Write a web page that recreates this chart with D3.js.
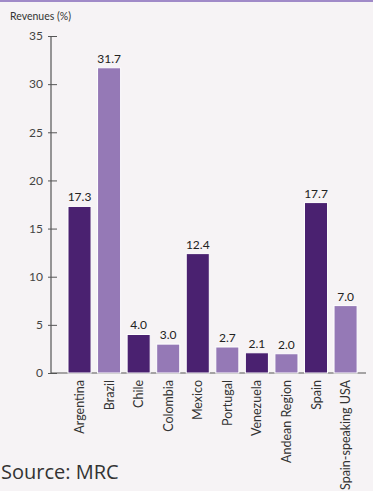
<!DOCTYPE html>
<html lang="en">

<head>
    <meta charset="UTF-8">
    <title>Revenues (%)</title>
    <script src="https://d3js.org/d3.v7.min.js"></script>
    <style>
        body { margin: 0; background: #f6f3f5; }
    </style>
</head>

<body>
    <script>
        var categories = ["Argentina", "Brazil", "Chile", "Colombia", "Mexico", "Portugal", "Venezuela", "Andean Region", "Spain", "Spain-speaking USA"];
        var revenues = [17.3, 31.7, 4.0, 3.0, 12.4, 2.7, 2.1, 2.0, 17.7, 7.0];
        var yTicks = [0, 5, 10, 15, 20, 25, 30, 35];

        var dark = "#4a2170";
        var light = "#9579b6";
        var font = "Lato, 'Open Sans', sans-serif";

        var svg = d3.select("body")
            .append("svg")
            .attr("width", 373)
            .attr("height", 491);

        svg.append("rect")
            .attr("x", 0).attr("y", 0)
            .attr("width", 373).attr("height", 491)
            .attr("fill", "#f6f3f5");

        // purple rule at the top
        svg.append("rect")
            .attr("x", 0).attr("y", 0)
            .attr("width", 373).attr("height", 2)
            .attr("fill", "#a08ac8");

        var x = d3.scaleBand()
            .domain(categories)
            .range([64.75, 360.35])
            .paddingInner(0.22)
            .paddingOuter(0.11);

        var y = d3.scaleLinear()
            .domain([0, 35])
            .range([373, 36]);

        // y axis
        var yAxis = svg.append("g")
            .attr("transform", "translate(51,0)")
            .call(d3.axisRight(y).tickValues(yTicks).tickSize(6).tickFormat(d3.format("d")));
        yAxis.select(".domain").remove();
        yAxis.selectAll(".tick line").attr("stroke", "#555").attr("x1", -3);
        yAxis.selectAll(".tick text")
            .attr("x", -8)
            .attr("text-anchor", "end")
            .attr("fill", "#444")
            .style("font-family", font)
            .style("font-size", "12px");

        svg.append("line")
            .attr("x1", 51).attr("x2", 51)
            .attr("y1", y(35)).attr("y2", y(0))
            .attr("stroke", "#555").attr("stroke-width", 1.2);

        svg.append("line")
            .attr("x1", 51).attr("x2", 366)
            .attr("y1", y(0)).attr("y2", y(0))
            .attr("stroke", "#555").attr("stroke-width", 1.2);

        svg.append("text")
            .attr("x", 10).attr("y", 20)
            .attr("fill", "#333")
            .style("font-family", font)
            .style("font-size", "10.5px")
            .text("Revenues (%)");

        // bars
        svg.selectAll(".bar")
            .data(categories)
            .enter()
            .append("rect")
            .attr("class", "bar")
            .attr("x", function (d) { return x(d); })
            .attr("y", function (d, i) { return y(revenues[i]); })
            .attr("width", x.bandwidth())
            .attr("height", function (d, i) { return y(0) - y(revenues[i]); })
            .attr("fill", function (d, i) { return i % 2 == 0 ? dark : light; })
            .attr("stroke", "#ffffff")
            .attr("stroke-width", 1);

        // value labels
        svg.selectAll(".val")
            .data(categories)
            .enter()
            .append("text")
            .attr("class", "val")
            .attr("x", function (d) { return x(d) + x.bandwidth() / 2; })
            .attr("y", function (d, i) { return y(revenues[i]) - 5; })
            .attr("text-anchor", "middle")
            .attr("fill", "#222")
            .style("font-family", font)
            .style("font-size", "12px")
            .text(function (d, i) { return revenues[i].toFixed(1); });

        // category labels
        svg.selectAll(".cat")
            .data(categories)
            .enter()
            .append("text")
            .attr("class", "cat")
            .attr("transform", function (d) {
                return "translate(" + (x(d) + x.bandwidth() / 2 + 4.5) + "," + (y(0) + 7) + ") rotate(-90)";
            })
            .attr("text-anchor", "end")
            .attr("fill", "#333")
            .style("font-family", font)
            .style("font-size", "12.5px")
            .text(function (d) { return d; });

        svg.append("text")
            .attr("x", 1).attr("y", 479)
            .attr("fill", "#333")
            .style("font-family", "'Open Sans', sans-serif")
            .style("font-size", "20px")
            .text("Source: MRC");
    </script>
</body>

</html>
